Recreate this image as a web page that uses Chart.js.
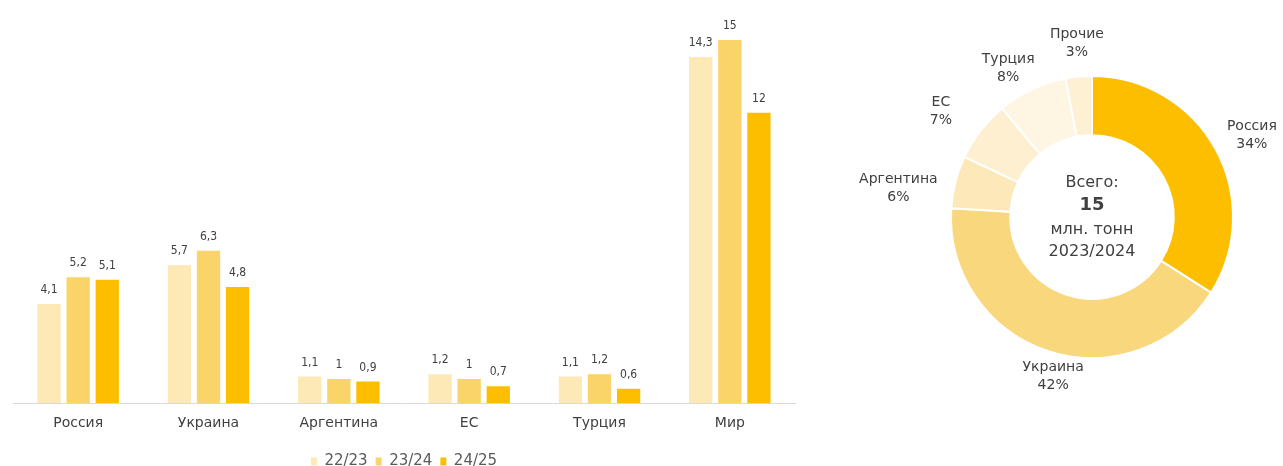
<!DOCTYPE html>
<html>
<head>
<meta charset="utf-8">
<script src="https://cdn.jsdelivr.net/npm/chart.js@4"></script>
<style>
  body { margin: 0; background: #fff; width: 1283px; height: 466px; overflow: hidden; }
  #barBox { position: absolute; left: 0; top: 0; width: 810px; height: 479px; }
  #pieBox { position: absolute; left: 820px; top: 0; width: 463px; height: 466px; }
</style>
</head>
<body>
<div id="barBox"><canvas id="bars"></canvas></div>
<div id="pieBox"><canvas id="pie"></canvas></div>
<script>
// bar chart data, mln tonnes
const countries = ["Россия", "Украина", "Аргентина", "ЕС", "Турция", "Мир"];
const seasons = ["22/23", "23/24", "24/25"];
const v2223 = [4.1, 5.7, 1.1, 1.2, 1.1, 14.3];
const v2324 = [5.2, 6.3, 1, 1, 1.2, 15];
const v2425 = [5.1, 4.8, 0.9, 0.7, 0.6, 12];
const barColors = ["#FDE9B6", "#FAD468", "#FDBE00"];

// doughnut data, share 2023/2024, %
const shareLabels = ["Россия", "Украина", "Аргентина", "ЕС", "Турция", "Прочие"];
const shares = [34, 42, 6, 7, 8, 3];
const shareColors = ["#FDBE00", "#F9D77C", "#FCE8B9", "#FDEFD0", "#FEF6E2", "#FDF0D3"];
const totalLines = ["Всего:", "15", "млн. тонн", "2023/2024"];

// small nudges for the doughnut labels (px)
const labelNudge = [[10, 1], [14, -3], [-28, 14], [-16, -1], [-11, 6], [1, -3]];

const textColor = "#404040";
const font = "'DejaVu Sans', sans-serif";

const fmt = v => String(v).replace(".", ",");

const barValueLabels = {
  id: "barValueLabels",
  afterDatasetsDraw(chart) {
    const ctx = chart.ctx;
    ctx.save();
    ctx.font = "12px 'Liberation Sans Narrow', 'DejaVu Sans Condensed', sans-serif";
    ctx.fillStyle = textColor;
    ctx.textAlign = "center";
    ctx.textBaseline = "bottom";
    chart.data.datasets.forEach((ds, i) => {
      chart.getDatasetMeta(i).data.forEach((bar, j) => {
        ctx.fillText(fmt(ds.data[j]), bar.x, bar.y - 8);
      });
    });
    ctx.restore();
  }
};

new Chart(document.getElementById("bars"), {
  type: "bar",
  data: {
    labels: countries,
    datasets: [
      { label: seasons[0], data: v2223, backgroundColor: barColors[0] },
      { label: seasons[1], data: v2324, backgroundColor: barColors[1] },
      { label: seasons[2], data: v2425, backgroundColor: barColors[2] }
    ]
  },
  options: {
    responsive: true,
    maintainAspectRatio: false,
    animation: false,
    categoryPercentage: 0.67,
    barPercentage: 0.8,
    layout: { padding: { top: 40, left: 13, right: 15, bottom: 0 } },
    scales: {
      x: {
        grid: { display: false },
        border: { color: "#D9D9D9", width: 1 },
        ticks: { color: textColor, font: { family: font, size: 14 }, padding: 4 },
        afterFit: scale => { scale.height += 10; }
      },
      y: { display: false, min: 0, max: 15 }
    },
    plugins: {
      legend: {
        position: "bottom",
        labels: {
          color: "#595959",
          boxWidth: 6,
          boxHeight: 8,
          padding: 8,
          font: { family: font, size: 15 }
        }
      },
      tooltip: { enabled: false }
    }
  },
  plugins: [barValueLabels]
});

const pieLabels = {
  id: "pieLabels",
  afterDatasetsDraw(chart) {
    const ctx = chart.ctx;
    const arcs = chart.getDatasetMeta(0).data;
    ctx.save();
    ctx.fillStyle = textColor;
    ctx.textAlign = "center";
    ctx.textBaseline = "middle";
    ctx.font = "14px " + font;
    arcs.forEach((arc, i) => {
      const p = arc.getProps(["x", "y", "startAngle", "endAngle", "outerRadius"], true);
      const mid = (p.startAngle + p.endAngle) / 2;
      const r = p.outerRadius + 30;
      const cx = p.x + Math.cos(mid) * r + labelNudge[i][0];
      const cy = p.y + Math.sin(mid) * r + labelNudge[i][1];
      ctx.fillText(shareLabels[i], cx, cy - 9);
      ctx.fillText(shares[i] + "%", cx, cy + 9);
    });
    // centre text
    const c = arcs[0];
    ctx.font = "16px " + font;
    ctx.fillText(totalLines[0], c.x, c.y - 34);
    ctx.font = "bold 18px " + font;
    ctx.fillText(totalLines[1], c.x, c.y - 12);
    ctx.font = "16px " + font;
    ctx.fillText(totalLines[2], c.x, c.y + 13);
    ctx.fillText(totalLines[3], c.x, c.y + 35);
    ctx.restore();
  }
};

new Chart(document.getElementById("pie"), {
  type: "doughnut",
  data: {
    labels: shareLabels,
    datasets: [{
      data: shares,
      backgroundColor: shareColors,
      borderColor: "#FFFFFF",
      borderWidth: 2
    }]
  },
  options: {
    responsive: true,
    maintainAspectRatio: false,
    animation: false,
    cutout: "58%",
    layout: { padding: { left: 130, right: 49, top: 75, bottom: 107 } },
    plugins: {
      legend: { display: false },
      tooltip: { enabled: false }
    }
  },
  plugins: [pieLabels]
});
</script>
</body>
</html>
